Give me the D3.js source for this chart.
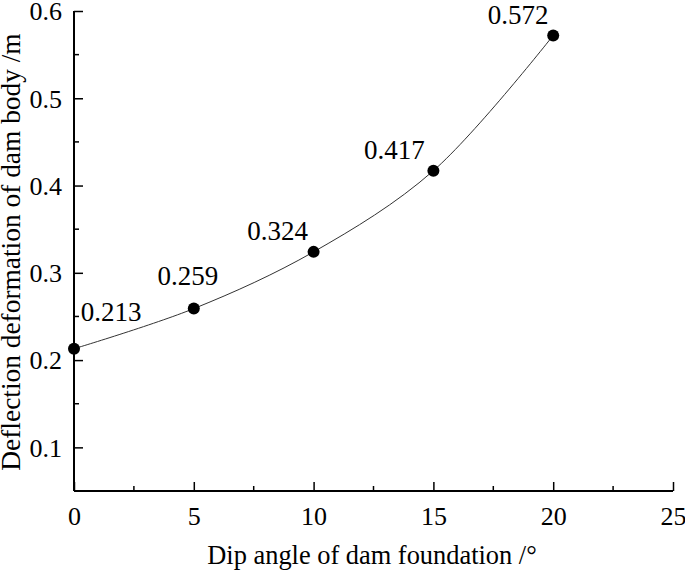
<!DOCTYPE html>
<html>
<head>
<meta charset="utf-8">
<script src="https://cdn.jsdelivr.net/npm/d3@7/dist/d3.min.js"></script>
<style>
  html, body { margin: 0; padding: 0; background: #fff; }
  svg { display: block; }
</style>
</head>
<body>
<svg id="chart" width="685" height="575"></svg>
<script>
// Data
const dipAngles = [0, 5, 10, 15, 20];
const deflection = [0.213, 0.259, 0.324, 0.417, 0.572];
const valueLabels = ["0.213", "0.259", "0.324", "0.417", "0.572"];
const xTickValues = [0, 5, 10, 15, 20, 25];
const yTickValues = [0.1, 0.2, 0.3, 0.4, 0.5, 0.6];
const xTitle = "Dip angle of dam foundation /°";
const yTitle = "Deflection deformation of dam body /m";

// label placement (pixel offsets from each point)
const labelDx = [37, -6, -36, -39, -35];
const labelDy = [-28, -24, -12, -12, -11];

(function () {
const FONT = '"Liberation Serif", "Times New Roman", serif';
const svg = d3.select("#chart");
const mL = 74, mR = 673, mT = 11, mB = 491;

const x = d3.scaleLinear().domain([0, 25]).range([mL, mR]);
const y = d3.scaleLinear().domain([0.05, 0.6]).range([mB, mT]);

const xMinor = d3.range(2.5, 25, 5);
const yMinor = d3.range(0.15, 0.6, 0.1);

const g = svg.append("g");

// X axis
const xAxis = g.append("g").attr("transform", `translate(0,${mB})`)
  .call(d3.axisBottom(x).tickValues(xTickValues).tickSize(-9).tickPadding(0).tickFormat(d3.format("d")));
xAxis.select(".domain").attr("d", `M${mL},0H${mR}`).attr("stroke-width", 2);
xAxis.selectAll(".tick line").attr("stroke-width", 1.5);
xAxis.selectAll(".tick text")
  .style("font-family", FONT).style("font-size", "26px")
  .attr("y", 34).attr("dy", null);
g.append("g").attr("transform", `translate(0,${mB})`)
  .selectAll("line").data(xMinor).join("line")
  .attr("x1", d => x(d)).attr("x2", d => x(d)).attr("y1", 0).attr("y2", -5)
  .attr("stroke", "#000").attr("stroke-width", 1.5);

// Y axis
const yAxis = g.append("g").attr("transform", `translate(${mL},0)`)
  .call(d3.axisLeft(y).tickValues(yTickValues).tickSize(-9).tickPadding(0).tickFormat(d3.format(".1f")));
yAxis.select(".domain").attr("d", `M0,${mB}V${mT}`).attr("stroke-width", 2);
yAxis.selectAll(".tick line").attr("stroke-width", 1.5);
yAxis.selectAll(".tick text")
  .style("font-family", FONT).style("font-size", "26px")
  .attr("x", -12).attr("dy", "0.34em");
g.append("g").attr("transform", `translate(${mL},0)`)
  .selectAll("line").data(yMinor).join("line")
  .attr("y1", d => y(d)).attr("y2", d => y(d)).attr("x1", 0).attr("x2", 5)
  .attr("stroke", "#000").attr("stroke-width", 1.5);

// Line
const pts = dipAngles.map((d, i) => [d, deflection[i]]);
const line = d3.line().x(d => x(d[0])).y(d => y(d[1])).curve(d3.curveCatmullRom.alpha(0.5));
g.append("path").datum(pts).attr("d", line)
  .attr("fill", "none").attr("stroke", "#333").attr("stroke-width", 1);

// Points
g.selectAll("circle.pt").data(pts).join("circle")
  .attr("class", "pt")
  .attr("cx", d => x(d[0])).attr("cy", d => y(d[1])).attr("r", 6)
  .attr("fill", "#000");

// Value labels
g.selectAll("text.val").data(pts).join("text")
  .attr("class", "val")
  .attr("x", (d, i) => x(d[0]) + labelDx[i])
  .attr("y", (d, i) => y(d[1]) + labelDy[i])
  .attr("text-anchor", "middle")
  .style("font-family", FONT).style("font-size", "27px")
  .text((d, i) => valueLabels[i]);

// Titles
svg.append("text").attr("x", 372).attr("y", 564).attr("text-anchor", "middle")
  .style("font-family", FONT).style("font-size", "26.4px").text(xTitle);
svg.append("text").attr("transform", `translate(20,252) rotate(-90)`).attr("text-anchor", "middle")
  .style("font-family", FONT).style("font-size", "27.4px").text(yTitle);
})();
</script>
</body>
</html>
